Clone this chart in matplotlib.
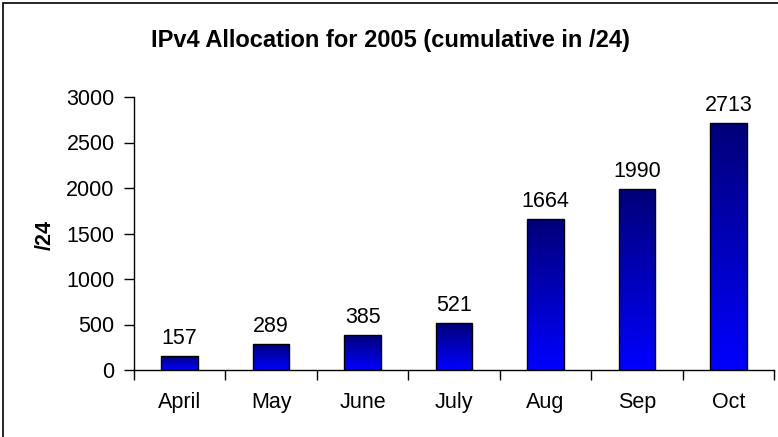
import matplotlib
matplotlib.use("Agg")
import matplotlib.pyplot as plt
import numpy as np
from matplotlib.colors import LinearSegmentedColormap
from matplotlib.patches import Rectangle

categories = ["April", "May", "June", "July", "Aug", "Sep", "Oct"]
values = [157, 289, 385, 521, 1664, 1990, 2713]
yticks = [0, 500, 1000, 1500, 2000, 2500, 3000]
title = "IPv4 Allocation for 2005 (cumulative in /24)"
ylabel = "/24"

plt.rcParams['font.family'] = ['Liberation Sans', 'DejaVu Sans']

W, H = 778, 437
fig = plt.figure(figsize=(W / 100, H / 100), dpi=100)
ax = fig.add_axes([134 / W, (H - 370) / H, (774 - 134) / W, (370 - 97) / H])

FS = 15.5

x = np.arange(len(categories))
bars = ax.bar(x, values, width=0.4, color="none", edgecolor="black", linewidth=1.0, zorder=3)

cmap = LinearSegmentedColormap.from_list("g", ["#0000FF", "#000078"])
grad = np.linspace(0, 1, 256).reshape(-1, 1)
for b in bars:
    x0, y0 = b.get_x(), b.get_y()
    w, h = b.get_width(), b.get_height()
    im = ax.imshow(grad, cmap=cmap, origin="lower", aspect="auto",
                   extent=[x0, x0 + w, y0, y0 + h], zorder=2, interpolation="bilinear")
    im.set_clip_path(b)
    ax.text(x0 + w / 2, y0 + h + 75, str(int(h)), ha="center", va="bottom", fontsize=FS)

ax.set_xlim(-0.5, len(categories) - 0.5)
ax.set_ylim(0, 3000)
ax.set_yticks(yticks)
ax.set_yticklabels([str(t) for t in yticks], fontsize=FS)
ax.set_xticks(x)
ax.set_xticklabels(categories, fontsize=FS)
ax.set_xticks(np.arange(len(categories) + 1) - 0.5, minor=True)
ax.tick_params(axis="x", which="major", length=0, pad=16)
ax.tick_params(axis="x", which="minor", length=7, direction="out", width=1)
ax.tick_params(axis="y", length=7, direction="out", width=1, pad=7)

for s in ["top", "right"]:
    ax.spines[s].set_visible(False)
ax.spines["left"].set_linewidth(1)
ax.spines["bottom"].set_linewidth(1)

fig.text(390 / W, 1 - 40 / H, title, ha="center", va="center", fontsize=17, fontweight="bold")
fig.text(45 / W, 1 - 235 / H, ylabel, ha="center", va="center", fontsize=FS, fontweight="bold", rotation=90)

fig.patches.append(Rectangle((3 / W, -0.1), 2.0, 1.1 - 3 / H, transform=fig.transFigure,
                             fill=False, edgecolor="black", linewidth=1.2))

fig.savefig("out.png", dpi=100)
